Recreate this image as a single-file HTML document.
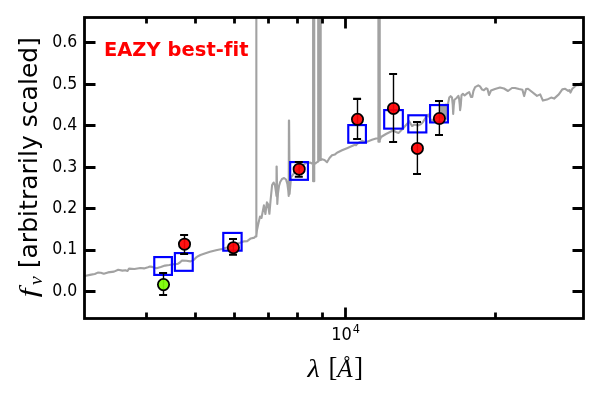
<!DOCTYPE html>
<html><head><meta charset="utf-8"><title>EAZY best-fit</title>
<style>
html,body{margin:0;padding:0;background:#fff;}
svg{display:block;}
text{font-family:"DejaVu Sans","Liberation Sans",sans-serif;fill:#000;}
.tl{font-size:16.67px;}
.m{font-family:"Liberation Serif","DejaVu Serif",serif;}
</style></head><body>
<svg width="600" height="400" viewBox="0 0 600 400">
<rect width="600" height="400" fill="#fff"/>
<defs><clipPath id="c"><rect x="84.5" y="17.5" width="499.0" height="301.0"/></clipPath></defs>
<g clip-path="url(#c)">
<path d="M84.50,276.0 L85.80,275.8 L91.20,274.6 L94.80,274.0 L97.80,272.6 L100.80,272.8 L103.80,273.8 L108.00,272.4 L114.00,271.6 L118.20,269.8 L122.40,270.6 L125.40,270.2 L127.50,271.0 L129.00,268.6 L134.40,269.0 L140.40,268.0 L144.00,268.4 L148.00,267.3 L150.00,266.6 L152.25,266.9 L156.50,268.3 L160.75,267.1 L165.00,265.6 L169.25,265.0 L173.50,264.3 L177.75,263.9 L179.90,262.5 L182.00,260.5 L186.25,260.8 L190.50,261.4 L193.90,259.9 L196.30,257.3 L198.00,256.2 L200.40,255.0 L204.00,253.8 L210.00,251.8 L216.00,250.2 L222.00,249.0 L230.00,246.5 L238.00,243.5 L243.60,241.4 L247.20,241.2 L250.80,238.4 L254.40,237.6 L255.60,236.3 L256.35,236.5 L256.35,-60.0 L256.35,236.0 L257.00,230.0 L258.50,223.0 L260.00,216.5 L261.50,218.0 L263.90,205.4 L265.40,214.0 L266.90,202.4 L268.00,204.0 L269.40,213.8 L270.60,200.0 L272.10,185.0 L273.60,182.5 L275.00,185.5 L276.00,192.0 L276.45,196.0 L276.55,166.6 L276.70,166.6 L277.30,204.0 L278.00,193.0 L279.00,186.0 L280.20,182.0 L282.00,179.0 L284.10,178.0 L286.00,179.5 L287.40,184.0 L288.20,190.0 L288.70,196.0 L288.90,120.5 L289.10,120.5 L289.60,194.0 L291.00,177.5 L294.25,172.8 L300.00,168.0 L306.00,163.0 L310.00,162.5 L312.00,163.5 L313.10,163.8 L313.10,-60.0 L313.10,181.3 L314.25,181.3 L314.25,-60.0 L314.25,164.0 L316.00,163.0 L317.30,162.0 L318.20,161.5 L318.20,-60.0 L319.45,-60.0 L319.45,160.5 L319.45,-60.0 L320.70,-60.0 L320.70,160.0 L322.00,159.3 L324.50,160.0 L327.00,162.2 L329.50,158.0 L332.00,155.2 L335.00,154.4 L337.00,152.7 L342.00,150.3 L347.00,148.2 L352.00,146.0 L355.00,144.7 L356.00,145.2 L357.50,143.5 L362.00,140.8 L364.00,141.8 L367.50,141.6 L372.00,139.7 L376.00,138.5 L377.50,138.3 L378.40,139.0 L378.40,-60.0 L378.40,141.8 L379.75,141.8 L379.75,-60.0 L379.75,140.0 L381.00,137.0 L386.00,134.0 L393.00,130.5 L396.00,132.0 L398.50,133.0 L402.00,129.5 L407.00,124.0 L409.00,121.0 L412.00,126.0 L414.50,124.5 L418.00,125.5 L421.00,124.0 L423.00,122.0 L426.00,117.0 L428.50,114.5 L431.00,121.0 L434.00,119.5 L437.00,117.5 L440.00,114.5 L441.00,105.0 L441.60,117.5 L442.20,104.9 L442.80,117.8 L443.40,104.8 L444.00,118.1 L444.60,104.7 L445.20,118.4 L445.80,104.6 L446.40,118.7 L447.00,104.5 L447.50,112.0 L448.20,102.9 L449.25,97.6 L450.65,96.2 L452.00,97.6 L452.75,105.0 L453.20,114.0 L453.80,105.0 L454.50,99.7 L456.60,98.0 L458.35,95.9 L459.00,98.0 L459.75,105.0 L460.10,110.2 L460.80,105.0 L461.50,95.2 L462.90,93.8 L464.60,95.5 L467.10,93.4 L469.20,92.0 L470.90,96.9 L472.30,96.9 L473.40,91.0 L475.10,87.1 L478.30,85.4 L480.00,86.4 L482.10,89.6 L483.90,90.3 L486.00,88.3 L487.50,89.0 L489.00,95.0 L491.00,90.5 L495.00,89.0 L500.00,87.5 L504.00,88.5 L508.00,91.0 L512.00,88.0 L515.00,88.0 L519.00,89.0 L522.40,89.7 L524.10,96.1 L526.10,89.0 L528.00,88.8 L537.00,95.9 L540.20,94.4 L542.90,100.6 L547.00,99.6 L551.10,97.6 L554.10,98.6 L558.80,94.4 L562.30,89.4 L565.20,88.8 L568.20,90.9 L569.40,90.0 L570.50,92.6 L572.30,88.8 L576.40,85.3 L578.80,85.3 L583.40,81.0" fill="none" stroke="#a2a2a2" stroke-width="2.1" stroke-linejoin="round"/>
<rect x="154.27" y="257.07" width="17.65" height="17.85" fill="none" stroke="#0000ff" stroke-width="2.15"/>
<rect x="174.88" y="253.07" width="17.85" height="17.75" fill="none" stroke="#0000ff" stroke-width="2.15"/>
<rect x="223.27" y="232.92" width="18.35" height="17.75" fill="none" stroke="#0000ff" stroke-width="2.15"/>
<rect x="290.18" y="162.07" width="17.75" height="17.75" fill="none" stroke="#0000ff" stroke-width="2.15"/>
<rect x="348.27" y="125.08" width="17.65" height="17.65" fill="none" stroke="#0000ff" stroke-width="2.15"/>
<rect x="384.18" y="110.08" width="18.65" height="18.55" fill="none" stroke="#0000ff" stroke-width="2.15"/>
<rect x="408.27" y="115.28" width="18.05" height="17.15" fill="none" stroke="#0000ff" stroke-width="2.15"/>
<rect x="430.07" y="105.08" width="17.85" height="17.35" fill="none" stroke="#0000ff" stroke-width="2.15"/>
<path d="M163.5,273.0 V295.0" stroke="#000" stroke-width="1.4" fill="none"/><path d="M159.1,273.0 h8 M159.1,295.0 h8" stroke="#000" stroke-width="2.1" fill="none"/>
<path d="M184.5,235.0 V253.9" stroke="#000" stroke-width="1.4" fill="none"/><path d="M180.1,235.0 h8 M180.1,253.9 h8" stroke="#000" stroke-width="2.1" fill="none"/>
<path d="M233.4,239.0 V254.8" stroke="#000" stroke-width="1.4" fill="none"/><path d="M229.0,239.0 h8 M229.0,254.8 h8" stroke="#000" stroke-width="2.1" fill="none"/>
<path d="M299.2,162.0 V176.8" stroke="#000" stroke-width="1.4" fill="none"/><path d="M294.8,162.0 h8 M294.8,176.8 h8" stroke="#000" stroke-width="2.1" fill="none"/>
<path d="M357.5,98.9 V139.0" stroke="#000" stroke-width="1.4" fill="none"/><path d="M353.1,98.9 h8 M353.1,139.0 h8" stroke="#000" stroke-width="2.1" fill="none"/>
<path d="M393.5,74.0 V142.0" stroke="#000" stroke-width="1.4" fill="none"/><path d="M389.1,74.0 h8 M389.1,142.0 h8" stroke="#000" stroke-width="2.1" fill="none"/>
<path d="M417.4,122.0 V174.0" stroke="#000" stroke-width="1.4" fill="none"/><path d="M413.0,122.0 h8 M413.0,174.0 h8" stroke="#000" stroke-width="2.1" fill="none"/>
<path d="M439.4,101.0 V135.0" stroke="#000" stroke-width="1.4" fill="none"/><path d="M435.0,101.0 h8 M435.0,135.0 h8" stroke="#000" stroke-width="2.1" fill="none"/>
<circle cx="163.5" cy="284.6" r="5.65" fill="#7afa00" fill-opacity="0.92" stroke="#000" stroke-width="1.75"/>
<circle cx="184.5" cy="244.2" r="5.65" fill="#ff0000" fill-opacity="0.92" stroke="#000" stroke-width="1.75"/>
<circle cx="233.4" cy="247.7" r="5.65" fill="#ff0000" fill-opacity="0.92" stroke="#000" stroke-width="1.75"/>
<circle cx="299.2" cy="169.2" r="5.65" fill="#ff0000" fill-opacity="0.92" stroke="#000" stroke-width="1.75"/>
<circle cx="357.5" cy="119.3" r="5.65" fill="#ff0000" fill-opacity="0.92" stroke="#000" stroke-width="1.75"/>
<circle cx="393.5" cy="108.4" r="5.65" fill="#ff0000" fill-opacity="0.92" stroke="#000" stroke-width="1.75"/>
<circle cx="417.4" cy="148.4" r="5.65" fill="#ff0000" fill-opacity="0.92" stroke="#000" stroke-width="1.75"/>
<circle cx="439.4" cy="118.5" r="5.65" fill="#ff0000" fill-opacity="0.92" stroke="#000" stroke-width="1.75"/>
</g>
<path d="M146.50,318.5 v-6 M146.50,17.5 v6" stroke="#000" stroke-width="2.8"/>
<path d="M195.50,318.5 v-6 M195.50,17.5 v6" stroke="#000" stroke-width="2.8"/>
<path d="M234.50,318.5 v-6 M234.50,17.5 v6" stroke="#000" stroke-width="2.8"/>
<path d="M268.50,318.5 v-6 M268.50,17.5 v6" stroke="#000" stroke-width="2.8"/>
<path d="M297.50,318.5 v-6 M297.50,17.5 v6" stroke="#000" stroke-width="2.8"/>
<path d="M322.50,318.5 v-6 M322.50,17.5 v6" stroke="#000" stroke-width="2.8"/>
<path d="M495.50,318.5 v-6 M495.50,17.5 v6" stroke="#000" stroke-width="2.8"/>
<path d="M345.50,318.5 v-11.1 M345.50,17.5 v11.1" stroke="#000" stroke-width="2.8"/>
<path d="M84.5,291.50 h11 M583.5,291.50 h-11" stroke="#000" stroke-width="2.8"/>
<path d="M84.5,250.50 h11 M583.5,250.50 h-11" stroke="#000" stroke-width="2.8"/>
<path d="M84.5,208.50 h11 M583.5,208.50 h-11" stroke="#000" stroke-width="2.8"/>
<path d="M84.5,167.50 h11 M583.5,167.50 h-11" stroke="#000" stroke-width="2.8"/>
<path d="M84.5,125.50 h11 M583.5,125.50 h-11" stroke="#000" stroke-width="2.8"/>
<path d="M84.5,84.50 h11 M583.5,84.50 h-11" stroke="#000" stroke-width="2.8"/>
<path d="M84.5,42.50 h11 M583.5,42.50 h-11" stroke="#000" stroke-width="2.8"/>

<rect x="84.5" y="17.5" width="499.0" height="301.0" fill="none" stroke="#000" stroke-width="2.8"/>
<text transform="translate(77.2,295.90) scale(0.945,1.07)" text-anchor="end" class="tl">0.0</text>
<text transform="translate(77.2,254.45) scale(0.945,1.07)" text-anchor="end" class="tl">0.1</text>
<text transform="translate(77.2,213.00) scale(0.945,1.07)" text-anchor="end" class="tl">0.2</text>
<text transform="translate(77.2,171.55) scale(0.945,1.07)" text-anchor="end" class="tl">0.3</text>
<text transform="translate(77.2,130.10) scale(0.945,1.07)" text-anchor="end" class="tl">0.4</text>
<text transform="translate(77.2,88.65) scale(0.945,1.07)" text-anchor="end" class="tl">0.5</text>
<text transform="translate(77.2,47.20) scale(0.945,1.07)" text-anchor="end" class="tl">0.6</text>

<text transform="translate(331.2,340.1) scale(0.975,1.07)" class="tl">10</text><text transform="translate(352.7,333) scale(0.975,1.05)" style="font-size:11.67px">4</text>
<text x="103.9" y="56" style="letter-spacing:0.08px;font-size:19.44px;font-weight:bold;fill:#ff0000">EAZY best-fit</text>
<text transform="translate(307.4,377) scale(1.13,1)" x="0" y="0" class="m" font-style="italic" style="font-size:25px">λ</text><text x="328.4" y="375.8" class="m" style="font-size:26.5px">[</text><text x="337.3" y="377" class="m" font-style="italic" style="font-size:25px">Å</text><text x="354.2" y="375.8" class="m" style="font-size:26.5px">]</text>
<g transform="translate(37.2,296.8) rotate(-90)"><text transform="translate(-0.5,0) scale(1.22,1)" x="0" y="0" class="m" font-style="italic" style="font-size:26px">f</text><text x="11.8" y="4.6" class="m" font-style="italic" style="font-size:19.5px">ν</text><text x="28.5" y="0" style="font-size:25px;letter-spacing:0.04px">[arbitrarily scaled]</text></g>
</svg>
</body></html>
